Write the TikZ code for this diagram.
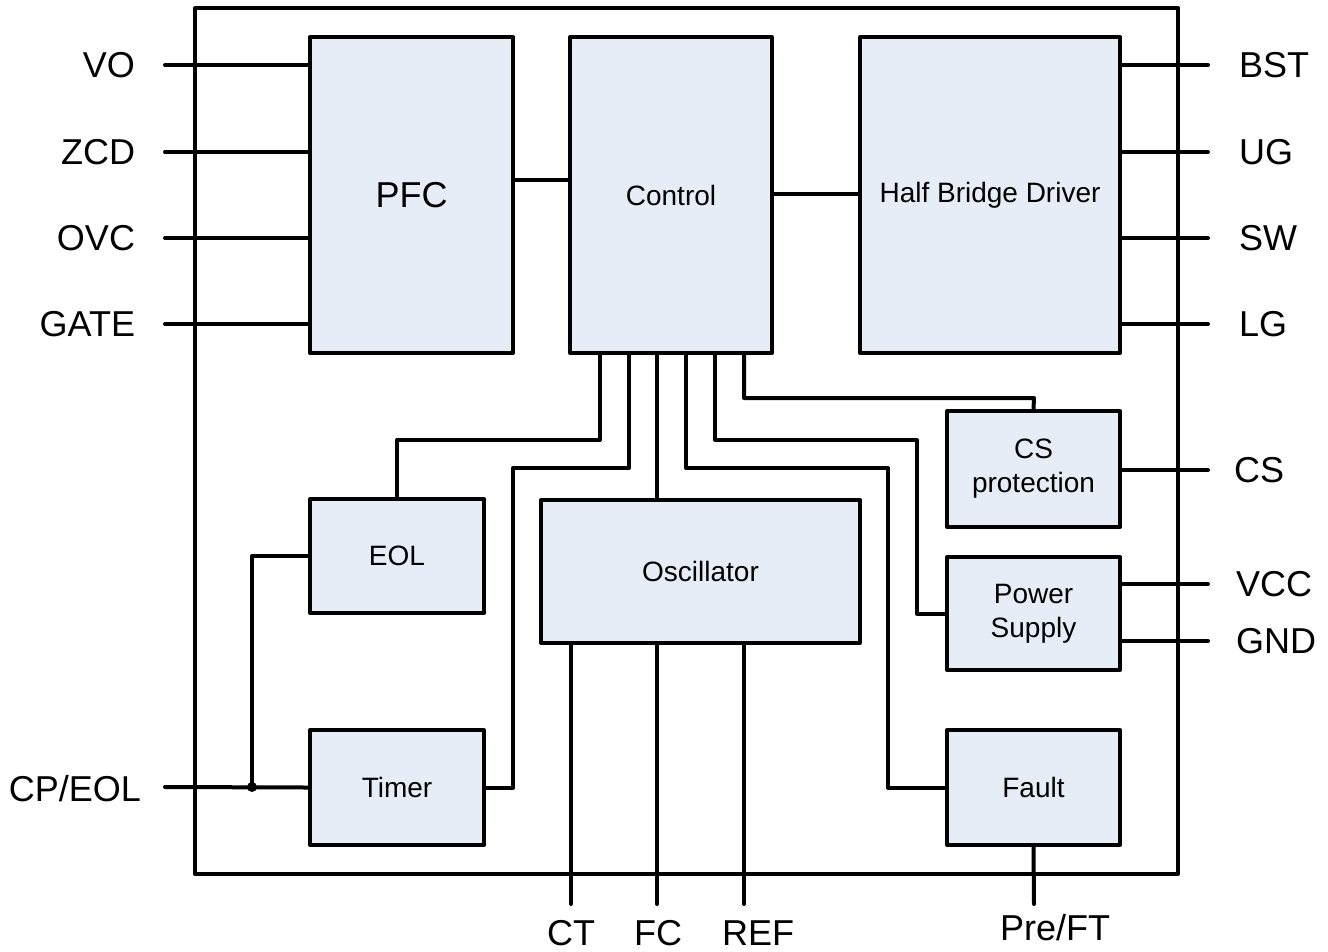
\documentclass[tikz,border=0pt]{standalone}
\usepackage{fontspec}
\setmainfont{Liberation Sans}
\definecolor{blkfill}{RGB}{230,237,247}
\begin{document}
\begin{tikzpicture}[x=0.75pt,y=-0.75pt,
  line width=3pt, line cap=round, line join=round,
  blk/.style={draw=black, fill=blkfill, inner sep=0pt, align=center,
    font=\fontsize{21}{25.5}\selectfont},
  pinlbl/.style={inner sep=0pt, font=\fontsize{27}{30}\selectfont},
  wire/.style={draw=black}]
\useasboundingbox (0,0) rectangle (1328,951);
% outer package
\draw (195,8) rectangle (1178,874);
% blocks
\node[blk, minimum width={203*0.75pt}, minimum height={316*0.75pt}, font=\fontsize{27}{30}\selectfont] (pfc) at (411.5,195) {PFC};
\node[blk, minimum width={202*0.75pt}, minimum height={316*0.75pt}] (ctrl) at (671,195) {Control};
\node[blk, minimum width={260*0.75pt}, minimum height={316*0.75pt}] (hbd) at (990,195) {Half Bridge Driver};
\node[blk, minimum width={174*0.75pt}, minimum height={114*0.75pt}] (eol) at (397,556) {EOL};
\node[blk, minimum width={174*0.75pt}, minimum height={115*0.75pt}] (timer) at (397,787.5) {Timer};
\node[blk, minimum width={319*0.75pt}, minimum height={143*0.75pt}] (osc) at (700.5,571.5) {Oscillator};
\node[blk, minimum width={173*0.75pt}, minimum height={116*0.75pt}] (csp) at (1033.5,469) {CS\\protection};
\node[blk, minimum width={173*0.75pt}, minimum height={113*0.75pt}] (ps) at (1033.5,613.5) {Power\\Supply};
\node[blk, minimum width={173*0.75pt}, minimum height={115*0.75pt}] (fault) at (1033.5,787.5) {Fault};
% left pins
\foreach \n/\y in {VO/65, ZCD/152, OVC/238, GATE/324}{
  \coordinate (p\n) at (165,\y);
  \draw[wire] (p\n) -- (p\n -| pfc.west);
  \node[pinlbl, anchor=east] (l\n) at (137,\y) {\n};
}
% right pins of half bridge driver
\foreach \n/\y in {BST/65, UG/152, SW/238, LG/324}{
  \coordinate (p\n) at (1208,\y);
  \draw[wire] (p\n -| hbd.east) -- (p\n);
  \node[pinlbl, anchor=west] (l\n) at (1237,\y) {\n};
}
% CS, VCC, GND
\coordinate (pCS) at (1208,470);
\draw[wire] (pCS -| csp.east) -- (pCS);
\node[pinlbl, anchor=west] (lCS) at (1232,470) {CS};
\coordinate (pVCC) at (1208,584);
\draw[wire] (pVCC -| ps.east) -- (pVCC);
\node[pinlbl, anchor=west] (lVCC) at (1234,584) {VCC};
\coordinate (pGND) at (1208,641);
\draw[wire] (pGND -| ps.east) -- (pGND);
\node[pinlbl, anchor=west] (lGND) at (1234,641) {GND};
% block to block
\draw[wire] (pfc.east |- 0,180) -- (ctrl.west |- 0,180);
\draw[wire] (ctrl.east |- 0,194) -- (hbd.west |- 0,194);
% control bottom outputs
\draw[wire] (ctrl.south -| 600,0) |- (397,440) -- (eol.north);
\draw[wire] (ctrl.south -| 629,0) |- (513,468) |- (timer.east);
\draw[wire] (ctrl.south -| 657,0) -- (osc.north -| 657,0);
\draw[wire] (ctrl.south -| 686,0) |- (888,468) |- (fault.west);
\draw[wire] (ctrl.south -| 715,0) |- (917,440) |- (ps.west);
\draw[wire] (ctrl.south -| 744,0) |- (1034,398) -- (csp.north);
% CP/EOL
\coordinate (pCP) at (165,787);
\coordinate (jn) at (252,787);
\draw[wire] (pCP) -- (timer.west);
\draw[wire] (jn) |- (eol.west);
\fill (jn) circle (5);
\node[pinlbl, anchor=east] (lCP) at (143,789) {CP/EOL};
% oscillator bottom pins
\foreach \n/\x/\lx in {CT/571/571, FC/657/658, REF/744/758}{
  \coordinate (p\n) at (\x,904);
  \draw[wire] (osc.south -| p\n) -- (p\n);
  \node[pinlbl] (l\n) at (\lx,933) {\n};
}
% fault pin
\coordinate (pPre) at (1034,904);
\draw[wire] (fault.south) -- (pPre);
\node[pinlbl] (lPre) at (1055,928) {Pre/FT};
\end{tikzpicture}
\end{document}
